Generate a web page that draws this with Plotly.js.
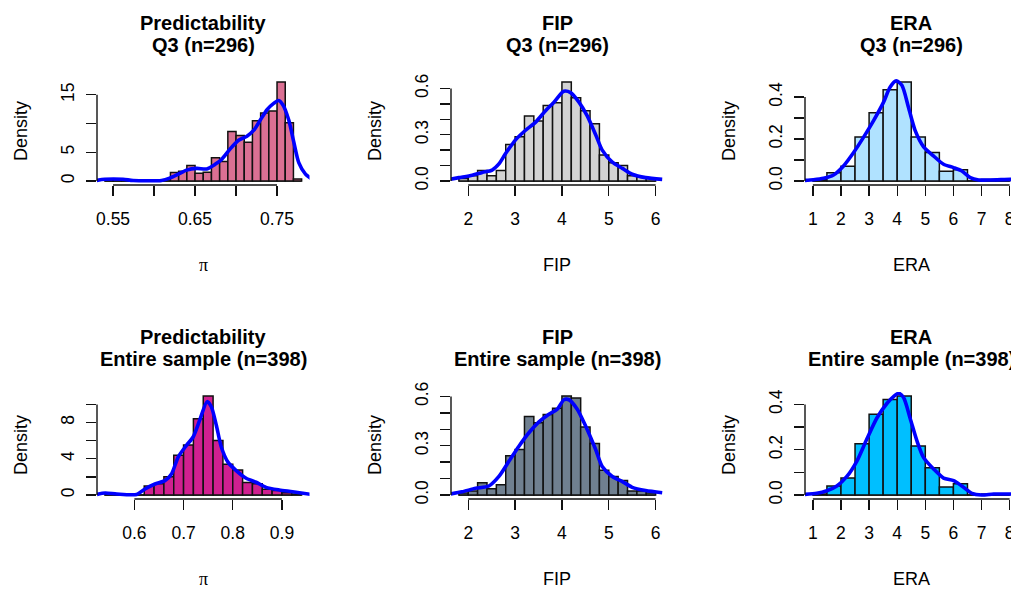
<!DOCTYPE html>
<html><head><meta charset="utf-8">
<script src="https://cdn.plot.ly/plotly-3.0.1.min.js"></script>
<style>html,body{margin:0;padding:0;overflow:hidden;background:#fff}#chart{width:1062px;height:628px}</style>
</head><body><div id="chart"></div>
<script>
// ---------- DATA ----------
// Panel 1: Predictability, Q3
const p1_title = ["Predictability", "Q3 (n=296)"];
const p1_xlabel = "π";
const p1_breakStart = 0.54, p1_binWidth = 0.01;
const p1_density = [0.34,0.34,0,0,0,0,0,0,1.5,1.7,2.7,1.35,1.52,4.05,3.38,8.6,7.9,6.76,10.47,11.82,12.16,17.23,10.14,0.34];
const p1_kdeX = [0.5296,0.5398,0.5622,0.5745,0.609,0.619,0.6296,0.6398,0.652,0.6643,0.6745,0.6827,0.6929,0.7031,0.7133,0.7214,0.7296,0.7378,0.7459,0.752,0.7573,0.7643,0.7704,0.7765,0.7847,0.7929];
const p1_kdeY = [0.1,0.3,0.3,0.1,0.1,0.5,1.2,1.9,2.2,2.1,2.9,3.8,5.6,7.1,7.8,8.8,10.6,12.4,13.5,14.0,13.2,10.6,6.8,3.2,1.2,0.3];
const p1_xticks = [0.55,0.60,0.65,0.70,0.75];
const p1_xticktext = ["0.55","","0.65","","0.75"];
const p1_yticks = [0,5,10,15];
const p1_yticktext = ["0","5","","15"];

// Panel 2: FIP, Q3
const p2_title = ["FIP", "Q3 (n=296)"];
const p2_xlabel = "FIP";
const p2_breakStart = 1.8, p2_binWidth = 0.2;
const p2_density = [0.017,0.034,0.068,0.034,0.068,0.236,0.287,0.422,0.389,0.49,0.507,0.642,0.54,0.456,0.372,0.169,0.118,0.101,0.034,0.025,0.017];
const p2_kdeX = [1.609,1.80,2.085,2.30,2.51,2.655,2.797,3.01,3.224,3.44,3.65,3.83,4.04,4.185,4.363,4.54,4.72,4.86,5.075,5.29,5.50,5.786,6.14];
const p2_kdeY = [0.011,0.022,0.038,0.056,0.071,0.111,0.178,0.267,0.329,0.382,0.456,0.511,0.582,0.573,0.511,0.422,0.30,0.20,0.122,0.082,0.044,0.022,0.011];
const p2_xticks = [2,3,4,5,6];
const p2_xticktext = ["2","3","4","5","6"];
const p2_yticks = [0,0.1,0.2,0.3,0.4,0.5,0.6];
const p2_yticktext = ["0.0","","","0.3","","","0.6"];

// Panel 3: ERA, Q3
const p3_title = ["ERA", "Q3 (n=296)"];
const p3_xlabel = "ERA";
const p3_breakStart = 1, p3_binWidth = 0.5;
const p3_density = [0.007,0.04,0.07,0.21,0.325,0.435,0.472,0.21,0.136,0.047,0.054,0,0.007,0.007];
const p3_kdeX = [0.70,1.02,1.38,1.735,2.09,2.45,2.80,3.16,3.515,3.75,3.966,4.167,4.40,4.64,4.94,5.29,5.65,6.006,6.30,6.60,6.90,7.31,8.02,8.3];
const p3_kdeY = [0.003,0.006,0.013,0.029,0.072,0.136,0.208,0.288,0.376,0.448,0.477,0.456,0.352,0.24,0.163,0.12,0.08,0.064,0.048,0.016,0.005,0.005,0.008,0.008];
const p3_xticks = [1,2,3,4,5,6,7,8];
const p3_xticktext = ["1","2","3","4","5","6","7","8"];
const p3_yticks = [0,0.1,0.2,0.3,0.4];
const p3_yticktext = ["0.0","","0.2","","0.4"];

// Panel 4: Predictability, entire sample
const p4_title = ["Predictability", "Entire sample (n=398)"];
const p4_xlabel = "π";
const p4_breakStart = 0.54, p4_binWidth = 0.02;
const p4_density = [0.126,0,0,0,1.005,1.256,2.01,4.40,5.53,8.42,10.93,6.03,3.39,2.76,1.38,1.256,0.628,0.50,0.25,0.126];
const p4_kdeX = [0.524,0.5407,0.5643,0.6047,0.6216,0.6418,0.662,0.6755,0.689,0.7059,0.7194,0.7328,0.7477,0.7564,0.7666,0.7767,0.7902,0.807,0.8272,0.8475,0.8677,0.8947,0.9216,0.9587];
const p4_kdeY = [0.07,0.22,0.11,0.07,0.67,1.22,1.59,2.33,4.19,5.48,6.4,8.26,10.3,9.74,7.7,5.3,3.63,2.7,1.85,1.41,0.85,0.56,0.37,0.07];
const p4_xticks = [0.6,0.7,0.8,0.9];
const p4_xticktext = ["0.6","0.7","0.8","0.9"];
const p4_yticks = [0,2,4,6,8,10];
const p4_yticktext = ["0","","4","","8",""];

// Panel 5: FIP, entire sample
const p5_title = ["FIP", "Entire sample (n=398)"];
const p5_xlabel = "FIP";
const p5_breakStart = 1.8, p5_binWidth = 0.2;
const p5_density = [0.0126,0.0251,0.0754,0.0377,0.0628,0.2387,0.2764,0.4774,0.4397,0.4899,0.5276,0.603,0.5905,0.4146,0.3141,0.1508,0.1131,0.0879,0.0251,0.0251,0.0126];
const p5_kdeX = [1.61,1.87,2.157,2.44,2.655,2.868,3.082,3.295,3.509,3.722,3.90,4.043,4.15,4.327,4.505,4.72,4.86,5.075,5.29,5.50,5.786,6.14];
const p5_kdeY = [0.006,0.02,0.041,0.055,0.113,0.205,0.297,0.379,0.445,0.492,0.522,0.58,0.58,0.522,0.42,0.277,0.174,0.113,0.082,0.047,0.027,0.014];
const p5_xticks = [2,3,4,5,6];
const p5_xticktext = ["2","3","4","5","6"];
const p5_yticks = [0,0.1,0.2,0.3,0.4,0.5,0.6];
const p5_yticktext = ["0.0","","","0.3","","","0.6"];

// Panel 6: ERA, entire sample
const p6_title = ["ERA", "Entire sample (n=398)"];
const p6_xlabel = "ERA";
const p6_breakStart = 1, p6_binWidth = 0.5;
const p6_density = [0.005,0.0402,0.0754,0.2261,0.3568,0.4221,0.4372,0.2161,0.1206,0.0352,0.0503,0,0.005,0.005];
const p6_kdeX = [0.70,1.14,1.50,1.854,2.21,2.566,2.92,3.278,3.633,3.87,4.05,4.227,4.464,4.70,4.94,5.294,5.65,6.006,6.30,6.658,7.01,7.43,8.02,8.3];
const p6_kdeY = [0.003,0.0075,0.019,0.04,0.082,0.15,0.247,0.34,0.404,0.434,0.449,0.43,0.337,0.24,0.165,0.115,0.075,0.064,0.04,0.0075,0.0,0.0045,0.0045,0.0045];
const p6_xticks = [1,2,3,4,5,6,7,8];
const p6_xticktext = ["1","2","3","4","5","6","7","8"];
const p6_yticks = [0,0.1,0.2,0.3,0.4];
const p6_yticktext = ["0.0","","0.2","","0.4"];

const barColors = ["#DB7093", "#D3D3D3", "#B0E2FF", "#D02090", "#708090", "#00BFFF"];
const curveColor = "#0000FF";

// ---------- LAYOUT (R-style 2x3 panel grid) ----------
const W = 1062, H = 628;
const colLeft = [97, 451, 805], plotW = 212.5;
const rowTop = [78, 392], plotH = 107;
const FONT = "Liberation Sans, Arial, Helvetica, sans-serif";

const panels = [
  {title:p1_title, xlabel:p1_xlabel, b0:p1_breakStart, bw:p1_binWidth, dens:p1_density, kx:p1_kdeX, ky:p1_kdeY, xt:p1_xticks, xtt:p1_xticktext, yt:p1_yticks, ytt:p1_yticktext},
  {title:p2_title, xlabel:p2_xlabel, b0:p2_breakStart, bw:p2_binWidth, dens:p2_density, kx:p2_kdeX, ky:p2_kdeY, xt:p2_xticks, xtt:p2_xticktext, yt:p2_yticks, ytt:p2_yticktext},
  {title:p3_title, xlabel:p3_xlabel, b0:p3_breakStart, bw:p3_binWidth, dens:p3_density, kx:p3_kdeX, ky:p3_kdeY, xt:p3_xticks, xtt:p3_xticktext, yt:p3_yticks, ytt:p3_yticktext},
  {title:p4_title, xlabel:p4_xlabel, b0:p4_breakStart, bw:p4_binWidth, dens:p4_density, kx:p4_kdeX, ky:p4_kdeY, xt:p4_xticks, xtt:p4_xticktext, yt:p4_yticks, ytt:p4_yticktext},
  {title:p5_title, xlabel:p5_xlabel, b0:p5_breakStart, bw:p5_binWidth, dens:p5_density, kx:p5_kdeX, ky:p5_kdeY, xt:p5_xticks, xtt:p5_xticktext, yt:p5_yticks, ytt:p5_yticktext},
  {title:p6_title, xlabel:p6_xlabel, b0:p6_breakStart, bw:p6_binWidth, dens:p6_density, kx:p6_kdeX, ky:p6_kdeY, xt:p6_xticks, xtt:p6_xticktext, yt:p6_yticks, ytt:p6_yticktext}
];

const traces = [];
const layout = {
  width: W, height: H,
  margin: {l:0, r:0, t:0, b:0},
  paper_bgcolor: "#fff", plot_bgcolor: "rgba(0,0,0,0)",
  showlegend: false,
  font: {family: FONT, color: "#000"},
  shapes: [], annotations: []
};

panels.forEach((p, i) => {
  const n = i + 1;
  const xa = "x" + (n === 1 ? "" : n), ya = "y" + (n === 1 ? "" : n);
  const xkey = "xaxis" + (n === 1 ? "" : n), ykey = "yaxis" + (n === 1 ? "" : n);
  const col = i % 3, row = Math.floor(i / 3);
  const nb = p.dens.length;
  const bEnd = p.b0 + nb * p.bw;
  const centers = p.dens.map((_, k) => p.b0 + (k + 0.5) * p.bw);
  const widths = p.dens.map(() => p.bw);
  const ymax = Math.max(...p.dens);
  const xspan = bEnd - p.b0;

  traces.push({type:"bar", x:centers, y:p.dens, width:widths, xaxis:xa, yaxis:ya,
    marker:{color:barColors[i], line:{color:"#111", width:1.5}}, hoverinfo:"skip"});
  traces.push({type:"scatter", mode:"lines", x:p.kx, y:p.ky, xaxis:xa, yaxis:ya,
    line:{color:curveColor, width:3.6, shape:"spline", smoothing:0.7}, hoverinfo:"skip"});

  const x0 = colLeft[col], y0 = rowTop[row];
  layout[xkey] = {
    domain: [x0 / W, (x0 + plotW) / W], anchor: ya,
    range: [p.b0 - 0.04 * xspan, bEnd + 0.04 * xspan],
    tickmode: "array", tickvals: p.xt, ticktext: p.xtt,
    ticks: "outside", ticklen: 10, tickwidth: 1.4, tickcolor: "#111",
    showline: false, showgrid: false, zeroline: false, fixedrange: true,
    tickfont: {family: FONT, size: 17.5, color: "#000"}, ticklabelstandoff: 8
  };
  layout[ykey] = {
    domain: [1 - (y0 + plotH) / H, 1 - y0 / H], anchor: xa,
    range: [-0.04 * ymax, 1.04 * ymax],
    tickmode: "array", tickvals: p.yt, ticktext: p.ytt, tickangle: -90,
    ticks: "outside", ticklen: 10, tickwidth: 1.4, tickcolor: "#111",
    showline: false, showgrid: false, zeroline: false, fixedrange: true,
    tickfont: {family: FONT, size: 17.5, color: "#000"}, ticklabelstandoff: 5
  };
  // R-style axis lines spanning first..last tick
  layout.shapes.push({type:"line", xref:xa, yref:ya + " domain", x0:p.xt[0], x1:p.xt[p.xt.length-1], y0:0, y1:0, line:{color:"#111", width:1.4}});
  layout.shapes.push({type:"line", xref:xa + " domain", yref:ya, x0:0, x1:0, y0:p.yt[0], y1:p.yt[p.yt.length-1], line:{color:"#111", width:1.4}});
  // baseline of empty bins
  layout.shapes.push({type:"line", layer:"below", xref:xa, yref:ya, x0:p.b0, x1:bEnd, y0:0, y1:0, line:{color:"#111", width:1.5}});

  // titles
  layout.annotations.push({xref:xa + " domain", yref:ya + " domain", x:0.5, y:1, yshift:55, xanchor:"center", yanchor:"middle",
    showarrow:false, text:p.title[0], font:{family:FONT, size:20, weight:700, color:"#000"}});
  layout.annotations.push({xref:xa + " domain", yref:ya + " domain", x:0.5, y:1, yshift:33, xanchor:"center", yanchor:"middle",
    showarrow:false, text:p.title[1], font:{family:FONT, size:20, weight:700, color:"#000"}});
  // axis labels
  layout.annotations.push({xref:xa + " domain", yref:ya + " domain", x:0.5, y:0, yshift:-80, xanchor:"center", yanchor:"middle",
    showarrow:false, text:p.xlabel, font:{family: p.xlabel === "π" ? "Liberation Serif, serif" : FONT, size:18, color:"#000"}});
  layout.annotations.push({xref:xa + " domain", yref:ya + " domain", x:0, y:0.5, xshift:-76.5, xanchor:"center", yanchor:"middle",
    textangle:-90, showarrow:false, text:"Density", font:{family:FONT, size:18, color:"#000"}});
});

Plotly.newPlot("chart", traces, layout, {displayModeBar:false, staticPlot:true});
</script>
</body></html>
